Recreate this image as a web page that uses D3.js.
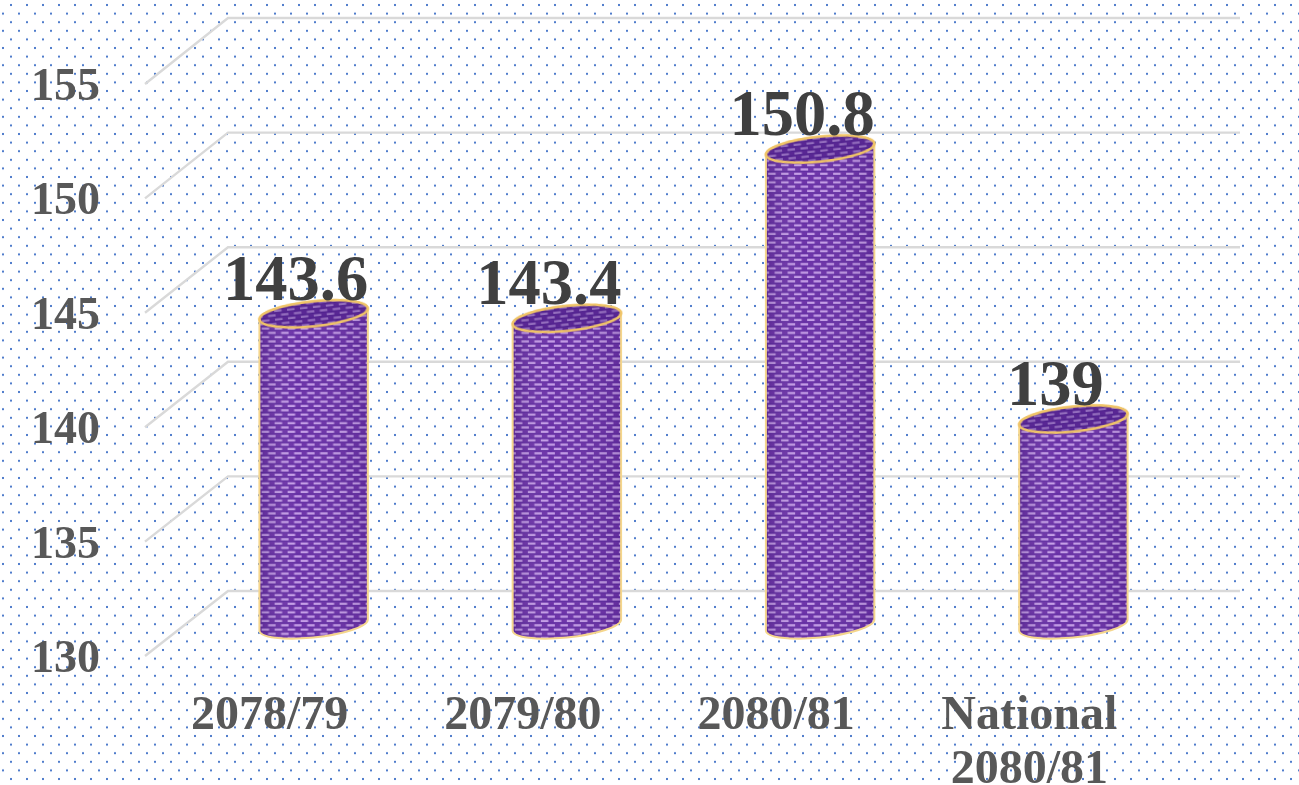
<!DOCTYPE html>
<html><head><meta charset="utf-8">
<script src="https://cdn.jsdelivr.net/npm/d3@7"></script>
<style>html,body{margin:0;padding:0;background:#fff;overflow:hidden}svg{display:block}</style>
</head><body><svg id="c" width="1299" height="785"></svg>
<script>
const categories=[["2078/79"],["2079/80"],["2080/81"],["National","2080/81"]];
const values=[143.6,143.4,150.8,139];
const valueLabels=["143.6","143.4","150.8","139"];
const ticks=[130,135,140,145,150,155];

const W=1299,H=785;
const svg=d3.select("#c");
const defs=svg.append("defs");
const soft=defs.append("filter").attr("id","soft").attr("x","-5%").attr("y","-5%").attr("width","110%").attr("height","110%");
soft.append("feGaussianBlur").attr("stdDeviation",0.55);
const dots=defs.append("pattern").attr("id","dots").attr("patternUnits","userSpaceOnUse").attr("width",16).attr("height",17.2).attr("x",11).attr("y",5);
[[0,0],[8,8.6],[16,0],[0,17.2],[16,17.2]].forEach(p=>{
  dots.append("rect").attr("x",p[0]-1).attr("y",p[1]-1).attr("width",2).attr("height",2).attr("fill","#4f7ccb");
});
const weave=defs.append("pattern").attr("id","weave").attr("patternUnits","userSpaceOnUse").attr("width",13).attr("height",8.6);
weave.append("rect").attr("width",13).attr("height",8.6).attr("fill","#6b30a8");
weave.append("rect").attr("x",0).attr("y",0.7).attr("width",7.5).attr("height",2.2).attr("fill","#c39ce6");
weave.append("rect").attr("x",6.5).attr("y",5).attr("width",6.5).attr("height",2.2).attr("fill","#c39ce6");
weave.append("rect").attr("x",0).attr("y",5).attr("width",1).attr("height",2.2).attr("fill","#c39ce6");
weave.append("rect").attr("x",0).attr("y",3.4).attr("width",13).attr("height",.6).attr("fill","#54259a");
weave.append("rect").attr("x",0).attr("y",7.7).attr("width",13).attr("height",.6).attr("fill","#54259a");
const shade=defs.append("linearGradient").attr("id","shade");
shade.append("stop").attr("offset","0").attr("stop-color","#2a1050").attr("stop-opacity",.2);
shade.append("stop").attr("offset",".35").attr("stop-color","#fff").attr("stop-opacity",.02);
shade.append("stop").attr("offset","1").attr("stop-color","#2a1050").attr("stop-opacity",.14);

svg.append("rect").attr("width",W).attr("height",H).attr("fill","#fff");
svg.append("rect").attr("width",W).attr("height",H).attr("fill","url(#dots)");

const yFront=d3.scaleLinear().domain([130,155]).range([656,84]);
const yBack=d3.scaleLinear().domain([130,155]).range([591,18]);
const yMid=d3.scaleLinear().domain([130,155]).range([625,53]);
const x=d3.scaleBand().domain(d3.range(categories.length)).range([187,1200]);

// cylinder cap: rotated ellipse, with the points where its tangent is vertical
const rx=54.5, ry=12.5, rot=-6, th=Math.abs(rot)*Math.PI/180;
const hw=Math.sqrt(rx*rx*Math.cos(th)**2+ry*ry*Math.sin(th)**2);
const tilt=(rx*rx-ry*ry)*Math.sin(th)*Math.cos(th)/hw;

const grid=svg.append("g").attr("fill","none").attr("stroke","#d9d9d9").attr("stroke-width",2.4).attr("filter","url(#soft)");
ticks.forEach(t=>{
  grid.append("path").attr("d",`M145,${yFront(t)}L228,${yBack(t)}L1240,${yBack(t)}`);
});

svg.append("g").attr("filter","url(#soft)").selectAll("text").data(ticks).join("text")
  .attr("x",100).attr("y",d=>yFront(d)+16)
  .attr("text-anchor","end")
  .attr("font-family","Liberation Serif").attr("font-weight","bold").attr("font-size",46).attr("fill","#595959")
  .text(d=>d);

const bars=svg.append("g").selectAll("g").data(values).join("g")
  .attr("transform",(d,i)=>`translate(${x(i)+x.bandwidth()/2},0)`);
const bodyPath=d=>{
  const t=yMid(d),b=yMid(130);
  return `M${-hw},${t+tilt}L${-hw},${b+tilt}A${rx},${ry} ${rot} 0 0 ${hw},${b-tilt}L${hw},${t-tilt}A${rx},${ry} ${rot} 0 0 ${-hw},${t+tilt}Z`;
};
bars.append("path").attr("d",bodyPath).attr("fill","url(#weave)");
bars.append("path").attr("d",bodyPath).attr("fill","url(#shade)");
bars.append("path").attr("d",bodyPath).attr("fill","none").attr("stroke","#f5d68c").attr("stroke-width",2).attr("filter","url(#soft)");
const cap=()=>bars.append("ellipse").attr("rx",rx).attr("ry",ry)
  .attr("transform",d=>`translate(0,${yMid(d)}) rotate(${rot})`);
cap().attr("fill","url(#weave)");
cap().attr("fill","#3a1670").attr("fill-opacity",.35);
cap().attr("fill","none").attr("stroke","#f0c468").attr("stroke-width",2.6).attr("filter","url(#soft)");

bars.append("text").attr("x",-18).attr("y",d=>yMid(d)-14).attr("text-anchor","middle")
  .attr("filter","url(#soft)")
  .attr("font-family","Liberation Serif").attr("font-weight","bold").attr("font-size",64.5).attr("fill","#404040")
  .text((d,i)=>valueLabels[i]);

const cats=svg.append("g").attr("filter","url(#soft)").selectAll("text").data(categories).join("text")
  .attr("x",(d,i)=>x(i)+x.bandwidth()/2-44).attr("y",729).attr("text-anchor","middle")
  .attr("font-family","Liberation Serif").attr("font-weight","bold").attr("font-size",48).attr("fill","#595959");
cats.selectAll("tspan").data(d=>d).join("tspan")
  .attr("x",function(){return this.parentNode.getAttribute("x")})
  .attr("dy",(d,i)=>i?54:0).text(d=>d);
</script></body></html>
